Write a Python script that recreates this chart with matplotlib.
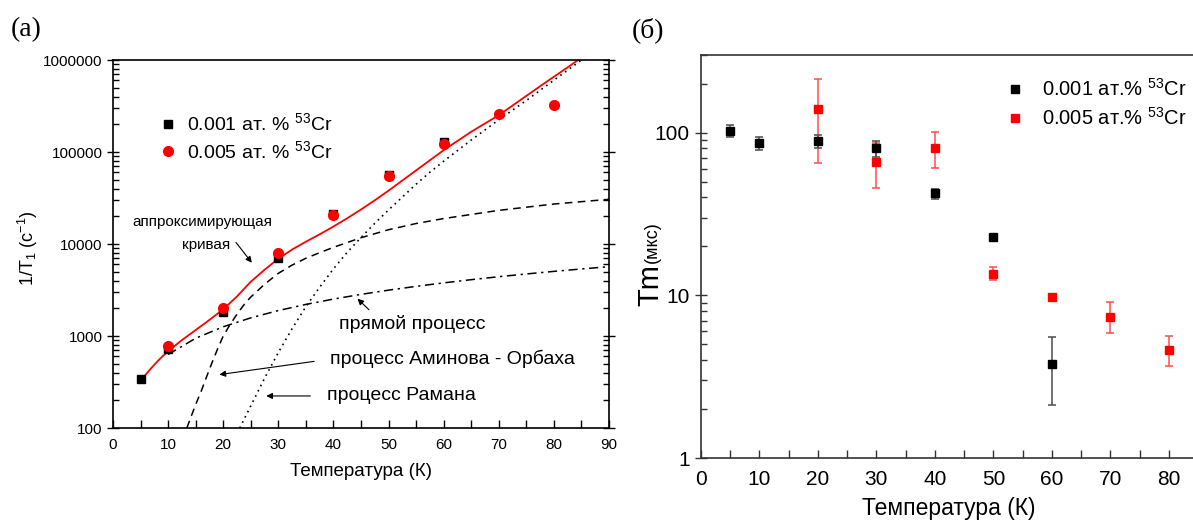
import matplotlib
matplotlib.use('Agg')
import matplotlib.pyplot as plt
from matplotlib.ticker import MultipleLocator, FuncFormatter, LogLocator, NullFormatter
from matplotlib.lines import Line2D

plt.rcParams['font.family'] = ['Liberation Sans', 'DejaVu Sans']
plt.rcParams['mathtext.fontset'] = 'custom'
plt.rcParams['mathtext.rm'] = 'Liberation Sans'
plt.rcParams['mathtext.it'] = 'Liberation Sans:italic'

# (a) скорость релаксации 1/T1
t_black_a = [5, 10, 20, 30, 40, 50, 60]
r_black_a = [340, 718, 1825, 7080, 21000, 56000, 127000]
t_red_a = [10, 20, 30, 40, 50, 60, 70, 80]
r_red_a = [780, 2030, 7940, 20700, 54800, 121000, 257000, 324000]

# аппроксимирующая кривая и вклады процессов
t_fit = [5, 6, 7, 8, 9, 10, 12.5, 15, 17.5, 20, 22.5, 25, 27.5, 30, 32.5, 35, 37.5,
         40, 42.5, 45, 47.5, 50, 52.5, 55, 57.5, 60, 62.5, 65, 67.5, 70, 72.5, 75,
         77.5, 80, 82.5, 84.4]
r_fit = [318, 385, 452, 525, 603, 684, 902, 1161, 1496, 1950, 2692, 3890, 5250, 6918,
         8710, 10590, 12740, 15490, 19050, 23710, 29850, 38020, 48980, 63100, 81280,
         104700, 131800, 166000, 204200, 251200, 319900, 407400, 518800, 657700,
         831800, 1000000]

t_direct = [10, 15, 20, 25, 30, 35, 40, 45, 50, 55, 60, 65, 70, 75, 80, 85, 90]
r_direct = [630, 945, 1260, 1575, 1890, 2205, 2520, 2835, 3150, 3465, 3780, 4095,
            4410, 4725, 5040, 5355, 5670]

t_orbach = [13.4, 14, 15, 16, 17, 18, 19, 20, 21, 22, 23, 24, 25, 27.5, 30, 32.5, 35,
            37.5, 40, 45, 50, 55, 60, 70, 80, 90]
r_orbach = [100, 125, 180, 251, 363, 519, 728, 1000, 1260, 1560, 1900, 2280, 2650,
            3650, 4800, 5900, 7000, 8050, 9200, 11700, 14300, 16700, 18900, 23200,
            27200, 30600]

t_raman = [23, 25, 27.5, 30, 32.5, 35, 37.5, 40, 42.5, 45, 47.5, 50, 52.5, 55, 57.5,
           60, 62.5, 65, 67.5, 70, 72.5, 75, 77.5, 80, 82.5, 85]
r_raman = [100, 174, 347, 661, 1202, 2089, 3388, 5370, 8128, 11750, 16790, 23440,
           32360, 44670, 60260, 79430, 103500, 134900, 173800, 223900, 285100,
           363100, 467700, 602600, 776200, 1000000]

# (б) время фазовой памяти Tm
t_black_b = [5, 10, 20, 30, 40, 50, 60]
tm_black = [103, 86, 88.7, 80.4, 42.5, 22.8, 3.8]
tm_black_lo = [94.5, 78.6, 80.9, 70.8, 39.3, 22.0, 2.12]
tm_black_hi = [112, 93.9, 96.3, 88.7, 45.2, 23.6, 5.52]

t_red_b = [20, 30, 40, 50, 60, 70, 80]
tm_red = [139, 65.6, 80, 13.6, 9.7, 7.4, 4.6]
tm_red_lo = [64.7, 45.6, 61, 12.4, 9.3, 5.9, 3.7]
tm_red_hi = [215, 86, 101, 14.9, 10.1, 9.1, 5.6]

W, H = 1193, 521
fig = plt.figure(figsize=(W / 100, H / 100), dpi=100)

# ---------- (a) ----------
ax1 = fig.add_axes([113 / W, 1 - 428 / H, 496 / W, 368 / H])
ax1.plot(t_fit, r_fit, color='red', lw=1.3)
ax1.plot(t_direct, r_direct, color='black', lw=1.1, linestyle=(0, (6, 3, 1.5, 3)))
ax1.plot(t_orbach, r_orbach, color='black', lw=1.1, linestyle=(0, (5, 3.5)))
ax1.plot(t_raman, r_raman, color='black', lw=1.2, linestyle=(0, (1, 2.5)))
ax1.plot(t_black_a, r_black_a, 's', color='black', ms=6, ls='none')
ax1.plot(t_red_a, r_red_a, 'o', color='red', ms=7, ls='none')

ax1.set_yscale('log')
ax1.set_xlim(0, 90)
ax1.set_ylim(100, 1e6)
ax1.xaxis.set_major_locator(MultipleLocator(10))
ax1.xaxis.set_minor_locator(MultipleLocator(5))
ax1.yaxis.set_major_formatter(FuncFormatter(lambda v, p: f'{v:.0f}'))
ax1.yaxis.set_minor_locator(LogLocator(base=10, subs=range(2, 10)))
ax1.yaxis.set_minor_formatter(NullFormatter())
ax1.tick_params(axis='both', which='both', direction='in', top=False, right=True,
                labelsize=11, width=1)
ax1.tick_params(axis='y', which='major', direction='inout', length=8)
ax1.tick_params(axis='x', which='both', length=6, pad=7)
ax1.tick_params(axis='y', which='minor', length=4)
for s in ax1.spines.values():
    s.set_linewidth(1.2)

h1 = [Line2D([], [], marker='s', color='black', ms=6, ls='none'),
      Line2D([], [], marker='o', color='red', ms=7, ls='none')]
ax1.legend(h1, ['0.001 ат. % $^{53}$Cr', '0.005 ат. % $^{53}$Cr'], loc='center left',
           bbox_to_anchor=(0.079, 0.79), frameon=False, fontsize=14,
           handlelength=0.8, handletextpad=0.58, labelspacing=0.3, borderaxespad=0)

arr = dict(arrowstyle='-|>', color='black', lw=0.8, mutation_scale=9)
ax1.text(16.3, 17300, 'аппроксимирующая', fontsize=11, ha='center', va='center')
ax1.text(16.9, 9750, 'кривая', fontsize=11, ha='center', va='center')
ax1.annotate('', xy=(25.5, 5920), xytext=(22.0, 11000), arrowprops=arr)
ax1.text(54.3, 1340, 'прямой процесс', fontsize=14, ha='center', va='center')
ax1.annotate('', xy=(44.0, 2670), xytext=(46.8, 1840), arrowprops=arr)
ax1.text(39.4, 569, 'процесс Аминова - Орбаха', fontsize=14, ha='left', va='center')
ax1.annotate('', xy=(18.8, 377), xytext=(37.0, 535), arrowprops=arr)
ax1.text(38.8, 224, 'процесс Рамана', fontsize=14, ha='left', va='center')
ax1.annotate('', xy=(27.3, 223), xytext=(36.3, 223), arrowprops=arr)

fig.text(361 / W, 1 - 472 / H, 'Температура (К)', fontsize=13.5, ha='center', va='center')
fig.text(28 / W, 1 - 248 / H, '1/T$_1$ (c$^{-1}$)', fontsize=13, rotation=90,
         ha='center', va='center')
fig.text(26 / W, 1 - 30 / H, '(a)', fontsize=20, family='Liberation Serif',
         ha='center', va='center')

# ---------- (б) ----------
ax2 = fig.add_axes([701 / W, 1 - 458 / H, 497 / W, 403 / H])
err_b = [[y - lo for y, lo in zip(tm_black, tm_black_lo)],
         [hi - y for y, hi in zip(tm_black, tm_black_hi)]]
err_r = [[y - lo for y, lo in zip(tm_red, tm_red_lo)],
         [hi - y for y, hi in zip(tm_red, tm_red_hi)]]
ax2.errorbar(t_red_b, tm_red, yerr=err_r, fmt='s', color='red', ms=6,
             ecolor=(1, 0.3, 0.3), elinewidth=1.1, capsize=3, capthick=1.1)
ax2.errorbar(t_black_b, tm_black, yerr=err_b, fmt='s', color='black', ms=6,
             ecolor=(0.3, 0.3, 0.3), elinewidth=1.1, capsize=3, capthick=1.1)

ax2.set_yscale('log')
ax2.set_xlim(0, 85)
ax2.set_ylim(1, 300)
ax2.xaxis.set_major_locator(MultipleLocator(10))
ax2.xaxis.set_minor_locator(MultipleLocator(5))
ax2.yaxis.set_major_formatter(FuncFormatter(lambda v, p: f'{v:.0f}'))
ax2.yaxis.set_minor_locator(LogLocator(base=10, subs=range(2, 10)))
ax2.yaxis.set_minor_formatter(NullFormatter())
ax2.tick_params(axis='both', which='both', direction='in', top=False, right=False,
                labelsize=15, width=1, colors='#333333', labelcolor='black')
ax2.tick_params(axis='y', which='major', direction='inout', length=9)
ax2.tick_params(axis='y', which='minor', length=4)
ax2.tick_params(axis='x', which='both', length=6, pad=8.5)
for s in ax2.spines.values():
    s.set_linewidth(1.2)
    s.set_color('#333333')

h2 = [Line2D([], [], marker='s', color='black', ms=6, ls='none'),
      Line2D([], [], marker='s', color='red', ms=6, ls='none')]
ax2.legend(h2, ['0.001 ат.% $^{53}$Cr', '0.005 ат.% $^{53}$Cr'], loc='center left',
           bbox_to_anchor=(0.60, 0.879), frameon=False, fontsize=14.5,
           handlelength=0.8, handletextpad=0.95, labelspacing=0.35, borderaxespad=0)

fig.text(949 / W, 1 - 508 / H, 'Температура (К)', fontsize=16.5, ha='center', va='center')
fig.text(650 / W, 1 - 285 / H, 'Tm', fontsize=21, rotation=90, ha='center', va='center')
fig.text(652 / W, 1 - 242 / H, '(мкс)', fontsize=13, rotation=90, ha='center', va='center')
fig.text(648 / W, 1 - 30 / H, '(б)', fontsize=20, family='Liberation Serif',
         ha='center', va='center')

fig.savefig('out.png', dpi=100)
